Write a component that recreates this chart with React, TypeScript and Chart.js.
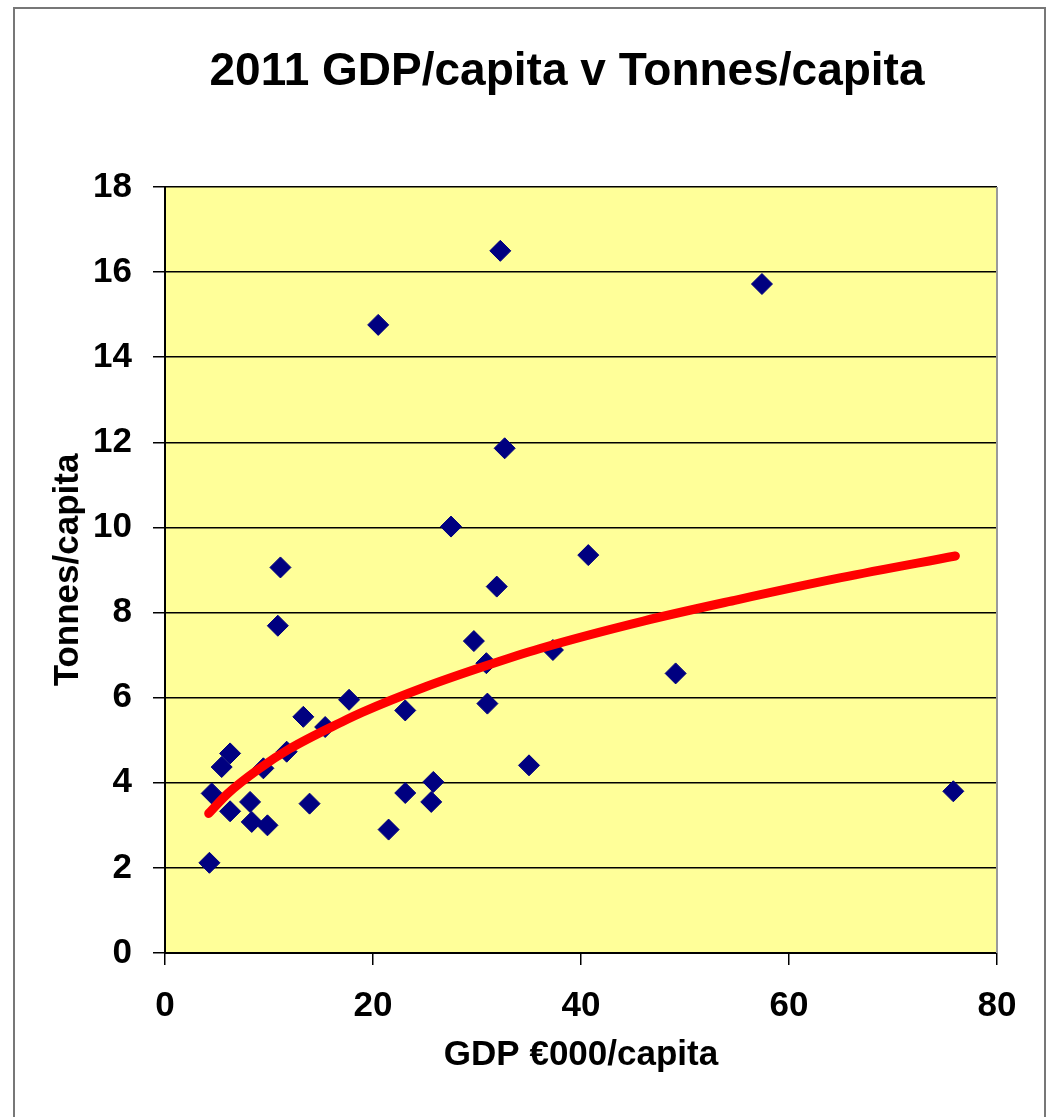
import { useEffect, useRef } from "react";
import { Chart, registerables } from "chart.js";

Chart.register(...registerables);

const CHART_TITLE = "2011 GDP/capita v Tonnes/capita";
const X_TITLE = "GDP €000/capita";
const Y_TITLE = "Tonnes/capita";

const gdpPerCapita = [
  4.27, 4.49, 5.45, 6.26, 6.26, 8.18, 8.34, 9.46, 9.85, 10.85, 11.1, 11.7,
  13.3, 13.9, 15.4, 17.7, 20.5, 21.5, 23.1, 23.1, 25.6, 25.8, 27.5, 29.7,
  30.9, 31.0, 31.9, 32.24, 32.66, 35.0, 37.3, 40.7, 49.1, 57.4, 75.8,
];
const tonnesPerCapita = [
  2.12, 3.75, 4.37, 4.69, 3.33, 3.55, 3.08, 4.34, 3.0, 7.69, 9.06, 4.73,
  5.55, 3.51, 5.31, 5.95, 14.76, 2.9, 5.7, 3.76, 3.55, 4.02, 10.02, 7.33,
  6.81, 5.86, 8.61, 16.5, 11.86, 4.41, 7.12, 9.35, 6.57, 15.72, 3.8,
];

const trendGdp = [4.2, 6, 9, 12, 17, 19, 25, 31, 36, 46, 55, 65, 76];
const trendTonnes = [3.28, 3.74, 4.32, 4.8, 5.43, 5.66, 6.25, 6.76, 7.15, 7.8, 8.3, 8.82, 9.33];

const xRange = [0, 80];
const xStep = 20;
const yRange = [0, 18];
const yStep = 2;

const FONT = '"Liberation Sans", Arial, Helvetica, sans-serif';

export default function App() {
  const ref = useRef<HTMLCanvasElement | null>(null);

  useEffect(() => {
    if (!ref.current) return;

    const bgPlugin = {
      id: "plotBg",
      beforeDraw(chart: any) {
        const { ctx, chartArea: a } = chart;
        ctx.save();
        ctx.fillStyle = "#FFFF99";
        ctx.fillRect(a.left, a.top, a.right - a.left, a.bottom - a.top);
        ctx.restore();
      },
      beforeDatasetsDraw(chart: any) {
        const { ctx, chartArea: a } = chart;
        ctx.save();
        ctx.strokeStyle = "#9a9a9a";
        ctx.lineWidth = 2;
        ctx.beginPath();
        ctx.moveTo(a.right, a.top);
        ctx.lineTo(a.right, a.bottom);
        ctx.stroke();
        ctx.restore();
      },
      afterDraw(chart: any) {
        const { ctx, chartArea: a } = chart;
        ctx.save();
        ctx.font = `bold 46px ${FONT}`;
        ctx.fillStyle = "#000";
        ctx.textAlign = "center";
        ctx.textBaseline = "alphabetic";
        ctx.fillText(CHART_TITLE, (a.left + a.right) / 2 - 14, 85);
        ctx.restore();
      },
    };

    const chart = new Chart(ref.current, {
      type: "scatter",
      data: {
        datasets: [
          {
            label: "Trend",
            data: trendGdp.map((x, i) => ({ x, y: trendTonnes[i] })),
            showLine: true,
            borderColor: "#FF0000",
            backgroundColor: "#FF0000",
            borderWidth: 9,
            borderCapStyle: "round",
            pointRadius: 0,
            cubicInterpolationMode: "monotone",
            order: 0,
          } as any,
          {
            label: "Countries",
            data: gdpPerCapita.map((x, i) => ({ x, y: tonnesPerCapita[i] })),
            pointStyle: "rectRot",
            pointRadius: 10.5,
            pointBackgroundColor: "#000080",
            pointBorderColor: "#000080",
            pointBorderWidth: 1,
            order: 1,
          } as any,
        ],
      },
      options: {
        responsive: false,
        animation: false,
        events: [],
        layout: { padding: { left: 40, right: 49, top: 187, bottom: 20 } },
        plugins: {
          legend: { display: false },
          tooltip: { enabled: false },
          title: { display: false },
        },
        scales: {
          x: {
            type: "linear",
            min: xRange[0],
            max: xRange[1],
            ticks: {
              stepSize: xStep,
              color: "#000",
              padding: 20,
              font: { family: FONT, size: 35, weight: "bold" },
            },
            grid: {
              drawOnChartArea: false,
              drawTicks: true,
              tickLength: 12,
              color: "#000",
              lineWidth: 1.5,
            },
            border: { display: true, color: "#000", width: 2 },
            title: {
              display: true,
              text: X_TITLE,
              color: "#000",
              padding: { top: 0, bottom: 21 },
              font: { family: FONT, size: 35, weight: "bold" },
            },
            afterFit(scale: any) {
              scale.height = 144;
            },
          },
          y: {
            type: "linear",
            min: yRange[0],
            max: yRange[1],
            ticks: {
              stepSize: yStep,
              color: "#000",
              padding: 21,
              font: { family: FONT, size: 35, weight: "bold" },
            },
            grid: {
              drawOnChartArea: true,
              drawTicks: true,
              tickLength: 12,
              color: "#000",
              lineWidth: 1.5,
            },
            border: { display: true, color: "#000", width: 2 },
            title: {
              display: true,
              text: Y_TITLE,
              color: "#000",
              padding: { top: 7, bottom: 0 },
              font: { family: FONT, size: 35, weight: "bold" },
            },
            afterFit(scale: any) {
              scale.width = 125;
            },
          },
        },
      } as any,
      plugins: [bgPlugin],
    });

    return () => chart.destroy();
  }, []);

  return (
    <>
      <div
        style={{
          position: "absolute",
          left: 13,
          top: 7,
          width: 1033,
          height: 1110,
          boxSizing: "border-box",
          borderTop: "2px solid #777",
          borderLeft: "2px solid #777",
          borderRight: "2px solid #777",
          background: "#fff",
        }}
      />
      <canvas
        ref={ref}
        width={1046}
        height={1117}
        style={{ position: "absolute", left: 0, top: 0, width: 1046, height: 1117 }}
      />
    </>
  );
}
